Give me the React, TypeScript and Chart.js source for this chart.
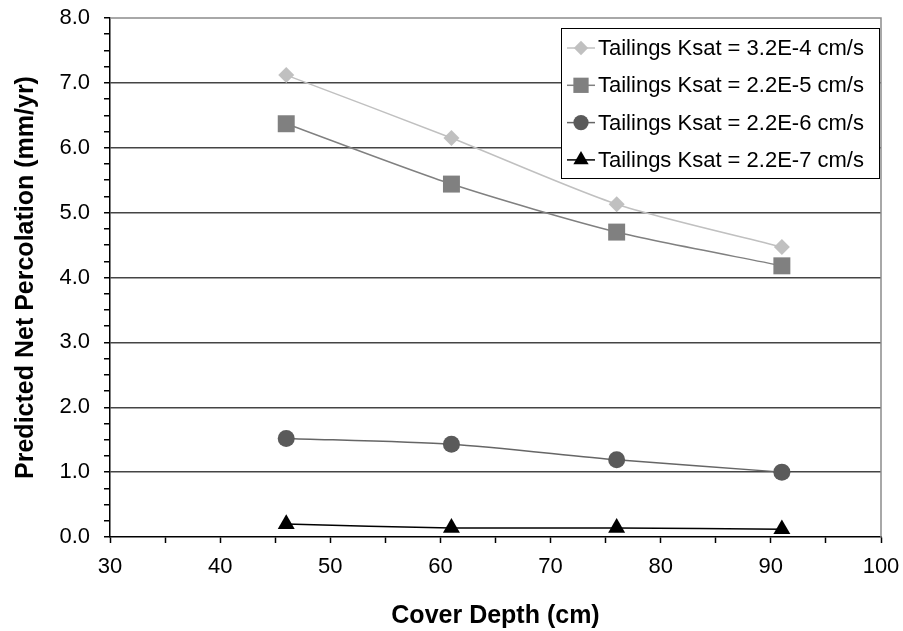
import React, { useEffect, useRef } from "react";
import { Chart, registerables } from "chart.js";
import { drawPoint } from "chart.js/helpers";

Chart.register(...registerables);

const coverDepth = [46, 61, 76, 91];
const seriesLabels = [
  "Tailings Ksat = 3.2E-4 cm/s",
  "Tailings Ksat = 2.2E-5 cm/s",
  "Tailings Ksat = 2.2E-6 cm/s",
  "Tailings Ksat = 2.2E-7 cm/s",
];
const ksat32e4 = [7.12, 6.15, 5.13, 4.47];
const ksat22e5 = [6.37, 5.44, 4.7, 4.18];
const ksat22e6 = [1.52, 1.43, 1.19, 1.0];
const ksat22e7 = [0.2, 0.14, 0.14, 0.12];
const xTitle = "Cover Depth (cm)";
const yTitle = "Predicted Net Percolation (mm/yr)";

const FONT = "'Liberation Sans', Arial, sans-serif";

const styles = [
  { color: "#c0c0c0", line: "#c0c0c0", pointStyle: "rectRot", radius: 8 },
  { color: "#808080", line: "#808080", pointStyle: "rect", radius: 12 },
  { color: "#5a5a5a", line: "#666666", pointStyle: "circle", radius: 8.5 },
  { color: "#000000", line: "#000000", pointStyle: "triangle", radius: 9.8 },
];

const legendPlugin = {
  id: "insideLegend",
  afterDraw(chart: any) {
    const ctx = chart.ctx;
    const { chartArea } = chart;
    ctx.save();
    // plot border (top and right)
    ctx.strokeStyle = "#8c8c8c";
    ctx.lineWidth = 1.5;
    ctx.beginPath();
    ctx.moveTo(chartArea.left, chartArea.top);
    ctx.lineTo(chartArea.right, chartArea.top);
    ctx.lineTo(chartArea.right, chartArea.bottom);
    ctx.stroke();

    const bx = 561.5, by = 28.5, bw = 318, bh = 150;
    ctx.fillStyle = "#ffffff";
    ctx.fillRect(bx, by, bw, bh);
    ctx.strokeStyle = "#000000";
    ctx.lineWidth = 1;
    ctx.strokeRect(bx, by, bw, bh);
    chart.data.datasets.forEach((ds: any, i: number) => {
      const y = 48 + i * 37.3;
      ctx.strokeStyle = ds.borderColor;
      ctx.lineWidth = 1.5;
      ctx.beginPath();
      ctx.moveTo(567, y);
      ctx.lineTo(595, y);
      ctx.stroke();
      ctx.fillStyle = ds.pointBackgroundColor;
      drawPoint(ctx, { pointStyle: ds.pointStyle, radius: ds.pointRadius * 0.9, rotation: 0, borderWidth: 0 } as any, 581, y);
      ctx.fillStyle = "#000000";
      ctx.font = `22px ${FONT}`;
      ctx.textBaseline = "middle";
      ctx.textAlign = "left";
      ctx.fillText(ds.label, 598, y + 1);
    });
    ctx.restore();
  },
};

export default function App() {
  const ref = useRef<HTMLCanvasElement | null>(null);
  useEffect(() => {
    if (!ref.current) return;
    const seriesValues = [ksat32e4, ksat22e5, ksat22e6, ksat22e7];
    const chart = new Chart(ref.current, {
      type: "line",
      data: {
        datasets: seriesValues.map((vals, i) => ({
          label: seriesLabels[i],
          data: coverDepth.map((x, j) => ({ x, y: vals[j] })),
          borderColor: styles[i].line,
          borderWidth: 1.5,
          backgroundColor: styles[i].color,
          pointBackgroundColor: styles[i].color,
          pointBorderWidth: 0,
          pointStyle: styles[i].pointStyle as any,
          pointRadius: styles[i].radius,
          pointHoverRadius: styles[i].radius,
          tension: 0.25,
          clip: false as any,
        })),
      },
      options: {
        animation: false,
        responsive: false,
        events: [],
        layout: { padding: { top: 18, right: 22, left: 0, bottom: 0 } },
        plugins: {
          legend: { display: false },
          tooltip: { enabled: false },
        },
        scales: {
          x: {
            type: "linear",
            min: 30,
            max: 100,
            afterFit: (s: any) => {
              s.height = 94;
              s.paddingLeft = 0;
              s.paddingRight = 0;
            },
            ticks: {
              stepSize: 5,
              autoSkip: false,
              maxRotation: 0,
              padding: 11,
              color: "#000",
              font: { family: FONT, size: 22 },
              callback: (v: any) => (Number(v) % 10 === 0 ? String(v) : ""),
            },
            grid: {
              drawOnChartArea: false,
              drawTicks: true,
              tickLength: 6,
              tickColor: "#000",
              tickWidth: 1.5,
            } as any,
            border: { color: "#000", width: 1.5 },
            title: {
              display: true,
              text: xTitle,
              color: "#000",
              font: { family: FONT, size: 25, weight: "bold" },
              padding: { top: 0, bottom: 0 },
            },
          },
          y: {
            type: "linear",
            min: 0,
            max: 8,
            afterFit: (s: any) => {
              s.width = 110;
              s.paddingTop = 0;
              s.paddingBottom = 0;
            },
            ticks: {
              stepSize: 0.25,
              autoSkip: false,
              padding: 14,
              color: "#000",
              font: { family: FONT, size: 22 },
              callback: (v: any) => (Number.isInteger(Number(v)) ? Number(v).toFixed(1) : ""),
            },
            grid: {
              color: (c: any) =>
                c.tick && Number.isInteger(c.tick.value) && c.tick.value > 0 && c.tick.value < 8 ? "#444" : "transparent",
              lineWidth: 1.5,
              tickLength: 6,
              tickColor: "#000",
              tickWidth: 1.5,
            } as any,
            border: { color: "#000", width: 1.5 },
            title: {
              display: true,
              text: yTitle,
              color: "#000",
              font: { family: FONT, size: 25, weight: "bold" },
              padding: { top: 11, bottom: 0 },
            },
          },
        },
      },
      plugins: [legendPlugin],
    });
    return () => chart.destroy();
  }, []);
  return (
    <div style={{ position: "fixed", left: 0, top: 0, width: 903, height: 631, background: "#fff" }}>
      <canvas ref={ref} width={903} height={631} style={{ display: "block" }} />
    </div>
  );
}
